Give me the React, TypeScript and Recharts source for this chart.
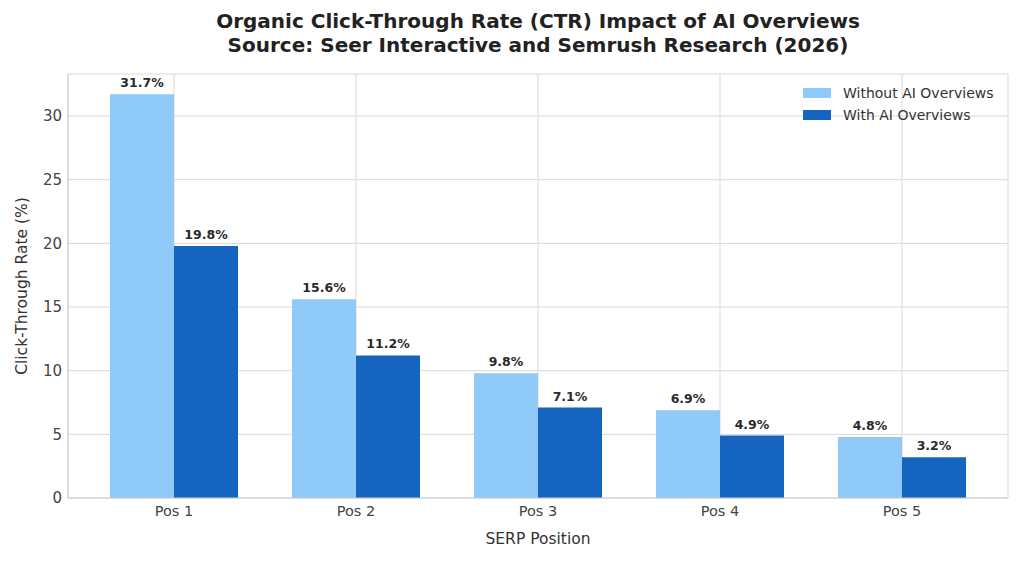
import { BarChart, Bar, XAxis, YAxis, CartesianGrid, LabelList } from "recharts";

const positions = ["Pos 1", "Pos 2", "Pos 3", "Pos 4", "Pos 5"];
const withoutAio = [31.7, 15.6, 9.8, 6.9, 4.8];
const withAio = [19.8, 11.2, 7.1, 4.9, 3.2];
const yTicks = [0, 5, 10, 15, 20, 25, 30];

const LIGHT = "#90CAF9";
const DARK = "#1565C0";
const FONT = "'DejaVu Sans', sans-serif";

const data = positions.map((pos, i) => ({
  pos,
  without: withoutAio[i],
  with: withAio[i],
}));

const legendItems = [
  { label: "Without AI Overviews", color: LIGHT },
  { label: "With AI Overviews", color: DARK },
];

const labelStyle = { fontWeight: "bold", fontSize: 12.5, fill: "#2a2a2a", fontFamily: FONT };

export default function App() {
  return (
    <div style={{ position: "absolute", left: 0, top: 0, width: 1024, height: 563, background: "#fff", fontFamily: FONT }}>
      <div
        style={{
          position: "absolute",
          left: 68,
          width: 940,
          top: 9,
          textAlign: "center",
          fontWeight: "bold",
          fontSize: 20,
          lineHeight: "24px",
          color: "#222",
        }}
      >
        Organic Click-Through Rate (CTR) Impact of AI Overviews
        <br />
        Source: Seer Interactive and Semrush Research (2026)
      </div>
      <div
        style={{
          position: "absolute",
          left: 22,
          top: 286,
          transform: "translate(-50%, -50%) rotate(-90deg)",
          whiteSpace: "nowrap",
          fontSize: 15.5,
          color: "#333",
        }}
      >
        Click-Through Rate (%)
      </div>
      <div
        style={{
          position: "absolute",
          left: 538,
          top: 539,
          transform: "translate(-50%, -50%)",
          whiteSpace: "nowrap",
          fontSize: 15.5,
          color: "#333",
        }}
      >
        SERP Position
      </div>
      <div style={{ position: "absolute", left: 0, top: 0 }}>
        <BarChart
          width={1024}
          height={563}
          data={data}
          margin={{ top: 74, right: 16, left: 8, bottom: 0 }}
          barGap={0}
          barSize={64}
        >
          <CartesianGrid stroke="#d9d9d9" strokeWidth={1} />
          <XAxis
            dataKey="pos"
            padding={{ left: 15, right: 15 }}
            axisLine={{ stroke: "#cccccc" }}
            tickLine={false}
            tickSize={0}
            tick={{ fill: "#444", fontSize: 14.5, fontFamily: FONT }}
            tickMargin={8}
            height={65}
          />
          <XAxis
            dataKey="pos"
            xAxisId="top"
            orientation="top"
            padding={{ left: 15, right: 15 }}
            axisLine={{ stroke: "#cccccc" }}
            tick={false}
            tickLine={false}
            height={0}
          />
          <YAxis
            domain={[0, 33.3]}
            ticks={yTicks}
            allowDataOverflow
            axisLine={{ stroke: "#cccccc" }}
            tickLine={false}
            tickSize={0}
            tick={{ fill: "#444", fontSize: 15, fontFamily: FONT }}
            tickMargin={6}
            width={60}
          />
          <YAxis
            yAxisId="right"
            orientation="right"
            domain={[0, 33.3]}
            axisLine={{ stroke: "#cccccc" }}
            tick={false}
            tickLine={false}
            width={0}
          />
          <Bar dataKey="without" fill={LIGHT} isAnimationActive={false} name="Without AI Overviews">
            <LabelList dataKey="without" position="top" offset={7} formatter={(v: number) => `${v}%`} style={labelStyle} />
          </Bar>
          <Bar dataKey="with" fill={DARK} isAnimationActive={false} name="With AI Overviews">
            <LabelList dataKey="with" position="top" offset={7} formatter={(v: number) => `${v}%`} style={labelStyle} />
          </Bar>
        </BarChart>
      </div>
      <div style={{ position: "absolute", left: 803, top: 82, fontSize: 14, color: "#333" }}>
        {legendItems.map((it) => (
          <div key={it.label} style={{ display: "flex", alignItems: "center", height: 22 }}>
            <span style={{ width: 28, height: 10, background: it.color, marginRight: 12 }} />
            {it.label}
          </div>
        ))}
      </div>
    </div>
  );
}
